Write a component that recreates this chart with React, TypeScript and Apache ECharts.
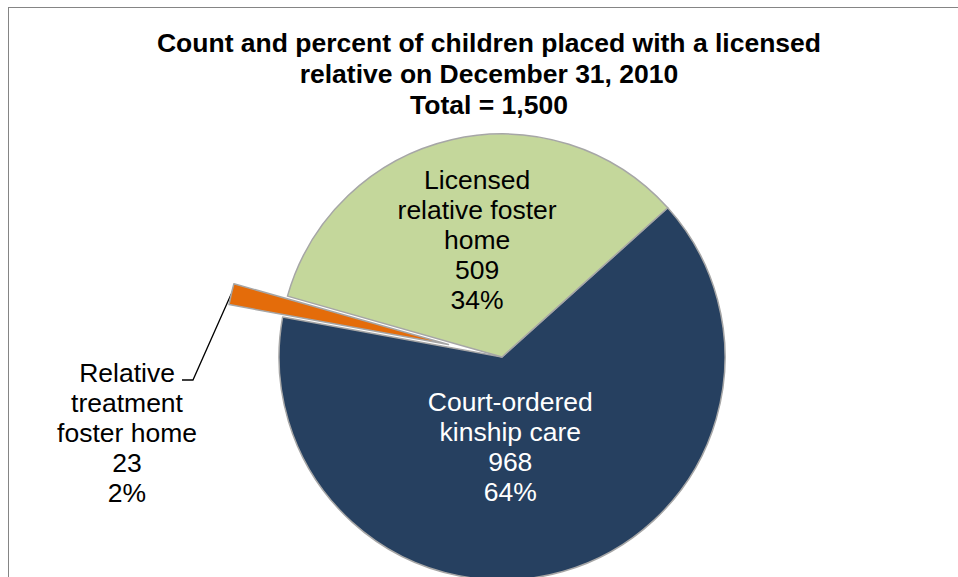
import React, { useEffect, useRef } from "react";
import * as echarts from "echarts";

const titleLines = [
  "Count and percent of children placed with a licensed",
  "relative on December 31, 2010",
  "Total = 1,500",
];
const categories = [
  "Court-ordered\nkinship care",
  "Relative\ntreatment\nfoster home",
  "Licensed\nrelative foster\nhome",
];
const counts = [968, 23, 509];
const percentLabels = ["64%", "2%", "34%"];
const colors = ["#264060", "#E46C0A", "#C4D79B"];
const labelColors = ["#ffffff", "#000000", "#000000"];
const exploded = [false, true, false];

const FONT = '"Liberation Sans", Arial, Helvetica, sans-serif';

export default function App() {
  const ref = useRef<HTMLDivElement>(null);
  useEffect(() => {
    const chart = echarts.init(ref.current!, null, { renderer: "svg" });

    const CENTER: [number, number] = [502, 357];
    const RADIUS = 223;
    const START = 42;
    const EXPLODE = 55;

    // offset of the exploded slice, derived from the data
    const total = counts.reduce((a, b) => a + b, 0);
    const exIdx = exploded.indexOf(true);
    const before = counts.slice(0, exIdx).reduce((a, b) => a + b, 0);
    const midDeg = START - ((before + counts[exIdx] / 2) / total) * 360;
    const midRad = (midDeg * Math.PI) / 180;
    const exCenter: [number, number] = [
      CENTER[0] + EXPLODE * Math.cos(midRad),
      CENTER[1] - EXPLODE * Math.sin(midRad),
    ];

    const innerShift: Record<number, [number, number]> = {
      0: [-23, -20],
      2: [1, -5],
    };

    const labelBase = {
      fontFamily: FONT,
      fontSize: 26.5,
      lineHeight: 30,
      formatter: (p: any) =>
        `${p.name}\n${p.value}\n${percentLabels[p.dataIndex]}`,
    };
    const border = { borderColor: "#a6a6a6", borderWidth: 1.5 };

    chart.setOption({
      animation: false,
      graphic: [
        {
          type: "text",
          x: 489,
          y: 74,
          silent: true,
          style: {
            text: titleLines.join("\n"),
            fontFamily: FONT,
            fontSize: 26.5,
            fontWeight: "bold",
            fill: "#000",
            align: "center",
            textAlign: "center",
            verticalAlign: "middle",
            textVerticalAlign: "middle",
            lineHeight: 31,
          },
        },
      ],
      series: [
        {
          type: "pie",
          center: CENTER,
          radius: RADIUS,
          startAngle: START,
          clockwise: true,
          avoidLabelOverlap: false,
          silent: true,
          emphasis: { disabled: true },
          label: { ...labelBase, show: true, position: "inside" },
          labelLine: { show: false },
          labelLayout: (p: any) => {
            const s = innerShift[p.dataIndex] || [0, 0];
            return { dx: s[0], dy: s[1] };
          },
          data: counts.map((v, i) => ({
            value: v,
            name: categories[i],
            itemStyle: exploded[i]
              ? { color: "transparent", borderWidth: 0 }
              : { color: colors[i], ...border },
            label: { show: !exploded[i], color: labelColors[i] },
          })),
        },
        {
          type: "pie",
          center: exCenter,
          radius: RADIUS,
          startAngle: START,
          clockwise: true,
          avoidLabelOverlap: false,
          silent: true,
          emphasis: { disabled: true },
          label: { ...labelBase, show: true, position: "outside" },
          labelLine: {
            show: true,
            length: 15,
            length2: 15,
            lineStyle: { color: "#000", width: 1.3 },
          },
          labelLayout: (p: any) => {
            if (!exploded[p.dataIndex]) return {};
            const x = 127;
            const y = 433;
            const w = p.labelRect.width;
            const h = p.labelRect.height;
            const right = x + w / 2;
            const top = y - h / 2;
            const pts = p.labelLinePoints;
            const start = pts && pts[0] ? pts[0] : [right + 33, top - 60];
            return {
              x,
              y,
              align: "center",
              verticalAlign: "middle",
              labelLinePoints: [
                start,
                [right - 4, top + 22],
                [right - 15, top + 22],
              ],
            };
          },
          data: counts.map((v, i) => ({
            value: v,
            name: categories[i],
            itemStyle: exploded[i]
              ? { color: colors[i], ...border }
              : { color: "transparent", borderWidth: 0 },
            label: { show: exploded[i], color: labelColors[i] },
            labelLine: { show: exploded[i] },
          })),
        },
      ],
    });
    return () => chart.dispose();
  }, []);

  return (
    <div
      style={{
        position: "fixed",
        left: 0,
        top: 0,
        width: 958,
        height: 577,
        overflow: "hidden",
        background: "#ffffff",
      }}
    >
      <div
        style={{
          position: "absolute",
          left: 8,
          top: 7,
          width: 1200,
          height: 900,
          border: "1px solid #858585",
        }}
      />
      <div
        ref={ref}
        style={{ position: "absolute", left: 0, top: 0, width: 958, height: 577 }}
      />
    </div>
  );
}
